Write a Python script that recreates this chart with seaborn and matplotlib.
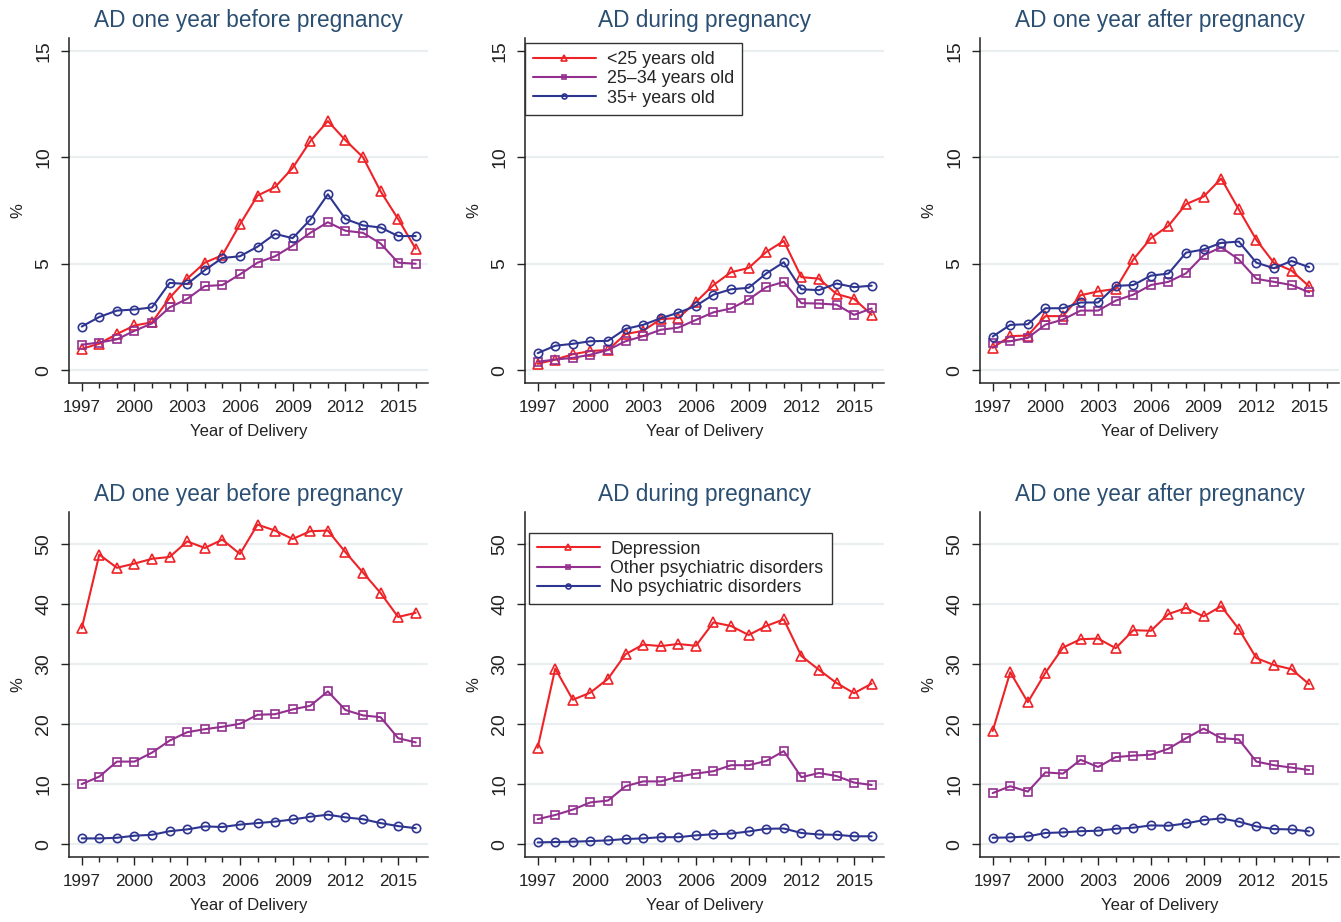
import numpy as np
import pandas as pd
import matplotlib
matplotlib.use("Agg")
import matplotlib.pyplot as plt
import seaborn as sns

sns.set_theme(style="white")
plt.rcParams['font.family'] = ['Liberation Sans', 'DejaVu Sans']

years = list(range(1997, 2017))
years_after = list(range(1997, 2016))

titles = ["AD one year before pregnancy", "AD during pregnancy", "AD one year after pregnancy"]
age_labels = ["<25 years old", "25\u201334 years old", "35+ years old"]
psy_labels = ["Depression", "Other psychiatric disorders", "No psychiatric disorders"]

# top row: by maternal age
age_before_lt25 = [1.0, 1.25, 1.7, 2.1, 2.25, 3.4, 4.3, 5.05, 5.4, 6.85, 8.2, 8.6, 9.5, 10.75, 11.7, 10.8, 10.0, 8.4, 7.1, 5.7]
age_before_25_34 = [1.2, 1.3, 1.45, 1.85, 2.2, 2.95, 3.35, 3.95, 4.0, 4.5, 5.05, 5.35, 5.85, 6.45, 6.95, 6.55, 6.45, 5.95, 5.05, 5.0]
age_before_35p = [2.05, 2.5, 2.8, 2.85, 2.95, 4.1, 4.05, 4.7, 5.27, 5.35, 5.8, 6.4, 6.2, 7.07, 8.26, 7.1, 6.8, 6.7, 6.3, 6.3]

age_during_lt25 = [0.3, 0.5, 0.75, 0.9, 0.95, 1.7, 1.85, 2.4, 2.45, 3.2, 4.0, 4.6, 4.8, 5.55, 6.07, 4.37, 4.3, 3.58, 3.35, 2.6]
age_during_25_34 = [0.4, 0.5, 0.58, 0.73, 0.95, 1.36, 1.6, 1.9, 2.0, 2.36, 2.72, 2.9, 3.32, 3.9, 4.15, 3.15, 3.13, 3.08, 2.6, 2.9]
age_during_35p = [0.8, 1.15, 1.24, 1.36, 1.38, 1.94, 2.13, 2.44, 2.7, 3.02, 3.55, 3.8, 3.87, 4.54, 5.07, 3.8, 3.76, 4.07, 3.9, 3.97]

age_after_lt25 = [1.05, 1.6, 1.63, 2.54, 2.54, 3.52, 3.7, 3.82, 5.2, 6.2, 6.78, 7.8, 8.15, 9.0, 7.55, 6.12, 5.04, 4.68, 3.94]
age_after_25_34 = [1.3, 1.36, 1.52, 2.14, 2.38, 2.8, 2.8, 3.27, 3.55, 4.0, 4.15, 4.55, 5.4, 5.77, 5.2, 4.29, 4.15, 4.0, 3.66]
age_after_35p = [1.58, 2.13, 2.16, 2.91, 2.91, 3.18, 3.18, 3.96, 4.0, 4.44, 4.54, 5.52, 5.67, 5.98, 6.04, 5.05, 4.79, 5.13, 4.84]

# bottom row: by psychiatric history
psy_before_dep = [36.0, 48.3, 46.1, 46.8, 47.6, 47.9, 50.5, 49.4, 50.8, 48.4, 53.3, 52.3, 50.9, 52.2, 52.3, 48.7, 45.3, 41.9, 37.9, 38.6]
psy_before_other = [10.05, 11.3, 13.8, 13.8, 15.3, 17.3, 18.7, 19.2, 19.6, 20.1, 21.6, 21.7, 22.5, 23.1, 25.5, 22.4, 21.5, 21.2, 17.7, 17.0]
psy_before_none = [1.0, 1.0, 1.1, 1.45, 1.6, 2.2, 2.5, 3.0, 2.9, 3.3, 3.55, 3.8, 4.15, 4.6, 4.95, 4.5, 4.2, 3.55, 3.05, 2.7]

psy_during_dep = [16.1, 29.3, 24.1, 25.3, 27.6, 31.7, 33.3, 33.05, 33.4, 33.1, 37.0, 36.4, 34.9, 36.4, 37.5, 31.4, 29.1, 26.9, 25.2, 26.8]
psy_during_other = [4.2, 4.9, 5.8, 7.0, 7.3, 9.7, 10.5, 10.5, 11.3, 11.8, 12.2, 13.2, 13.2, 13.9, 15.55, 11.2, 11.9, 11.4, 10.3, 9.9]
psy_during_none = [0.33, 0.4, 0.45, 0.55, 0.67, 0.9, 1.0, 1.2, 1.2, 1.5, 1.7, 1.8, 2.15, 2.6, 2.65, 1.9, 1.65, 1.6, 1.35, 1.35]

psy_after_dep = [18.9, 28.7, 23.7, 28.6, 32.8, 34.2, 34.3, 32.7, 35.7, 35.6, 38.4, 39.4, 38.0, 39.7, 35.9, 31.05, 29.9, 29.2, 26.7]
psy_after_other = [8.55, 9.7, 8.8, 12.0, 11.8, 14.1, 12.9, 14.55, 14.8, 14.95, 15.95, 17.7, 19.3, 17.7, 17.5, 13.8, 13.2, 12.8, 12.4]
psy_after_none = [1.1, 1.17, 1.33, 1.9, 2.0, 2.2, 2.28, 2.6, 2.78, 3.17, 3.1, 3.5, 4.05, 4.33, 3.78, 3.0, 2.55, 2.5, 2.17]

colors = ["#ee2328", "#93308f", "#2e3590"]
markers = ["^", "s", "o"]
msizes = [7, 6, 6]
title_color = "#2b4f72"

panels = [
    (years, [age_before_lt25, age_before_25_34, age_before_35p], age_labels),
    (years, [age_during_lt25, age_during_25_34, age_during_35p], age_labels),
    (years_after, [age_after_lt25, age_after_25_34, age_after_35p], age_labels),
    (years, [psy_before_dep, psy_before_other, psy_before_none], psy_labels),
    (years, [psy_during_dep, psy_during_other, psy_during_none], psy_labels),
    (years_after, [psy_after_dep, psy_after_other, psy_after_none], psy_labels),
]

fig = plt.figure(figsize=(13.41, 9.22), dpi=100)
lefts = [0.0515, 0.3915, 0.7308]
bottoms = [0.5846, 0.0705]
w, h = 0.2677, 0.3742

for i, (yrs, series, labels) in enumerate(panels):
    row, col = divmod(i, 3)
    ax = fig.add_axes([lefts[col], bottoms[row], w, h])
    df = pd.DataFrame({"year": yrs})
    for vals, lab, c, m, ms in zip(series, labels, colors, markers, msizes):
        df[lab] = vals
        sns.lineplot(data=df, x="year", y=lab, ax=ax, color=c, marker=m, ms=ms,
                     markerfacecolor="none", markeredgecolor=c, markeredgewidth=1.2,
                     lw=1.5, label=lab)

    if row == 0:
        ax.set_ylim(-0.6, 15.6)
        ax.set_yticks([0, 5, 10, 15])
    else:
        ax.set_ylim(-2.1, 55.4)
        ax.set_yticks([0, 10, 20, 30, 40, 50])
    ax.set_xlim(1996.28, 2016.7)
    ax.set_xticks(list(range(1997, 2016, 3)))
    ax.set_xticks(list(range(1997, 2017)), minor=True)

    ax.grid(axis="y", color="#eaeef1", lw=1.6)
    ax.set_axisbelow(True)
    for s in ["top", "right"]:
        ax.spines[s].set_visible(False)
    for s in ["left", "bottom"]:
        ax.spines[s].set_color("#222222")
        ax.spines[s].set_linewidth(1.1)

    ax.tick_params(axis="both", which="major", direction="out", length=6, width=1.0,
                   color="#222222", labelcolor="#222222", pad=6,
                   left=True, bottom=True)
    ax.tick_params(axis="x", which="major", labelsize=12.3)
    ax.tick_params(axis="y", which="major", labelsize=14)
    ax.tick_params(axis="x", which="minor", direction="out", length=3.5, width=1.0,
                   color="#222222", bottom=True)
    for t in ax.get_yticklabels():
        t.set_rotation(90)
        t.set_va("center")

    ax.set_title(titles[col], color=title_color, fontsize=16.3, pad=8)
    ax.set_xlabel("Year of Delivery", fontsize=12, color="#222222", labelpad=7)
    ax.set_ylabel("%", fontsize=12, color="#222222", labelpad=7)

    if col == 1:
        if row == 0:
            anchor = (0.0, 0.985)
        else:
            anchor = (0.011, 0.94)
        leg = ax.legend(loc="upper left", bbox_to_anchor=anchor, borderaxespad=0,
                        fontsize=12.9, handlelength=3.5, markerscale=0.6,
                        labelspacing=0.12, borderpad=0.45, handletextpad=0.6,
                        fancybox=False, framealpha=1, edgecolor="#333333")
        leg.get_frame().set_linewidth(1.0)
    else:
        ax.get_legend().remove()

fig.savefig("out.png", dpi=100)
